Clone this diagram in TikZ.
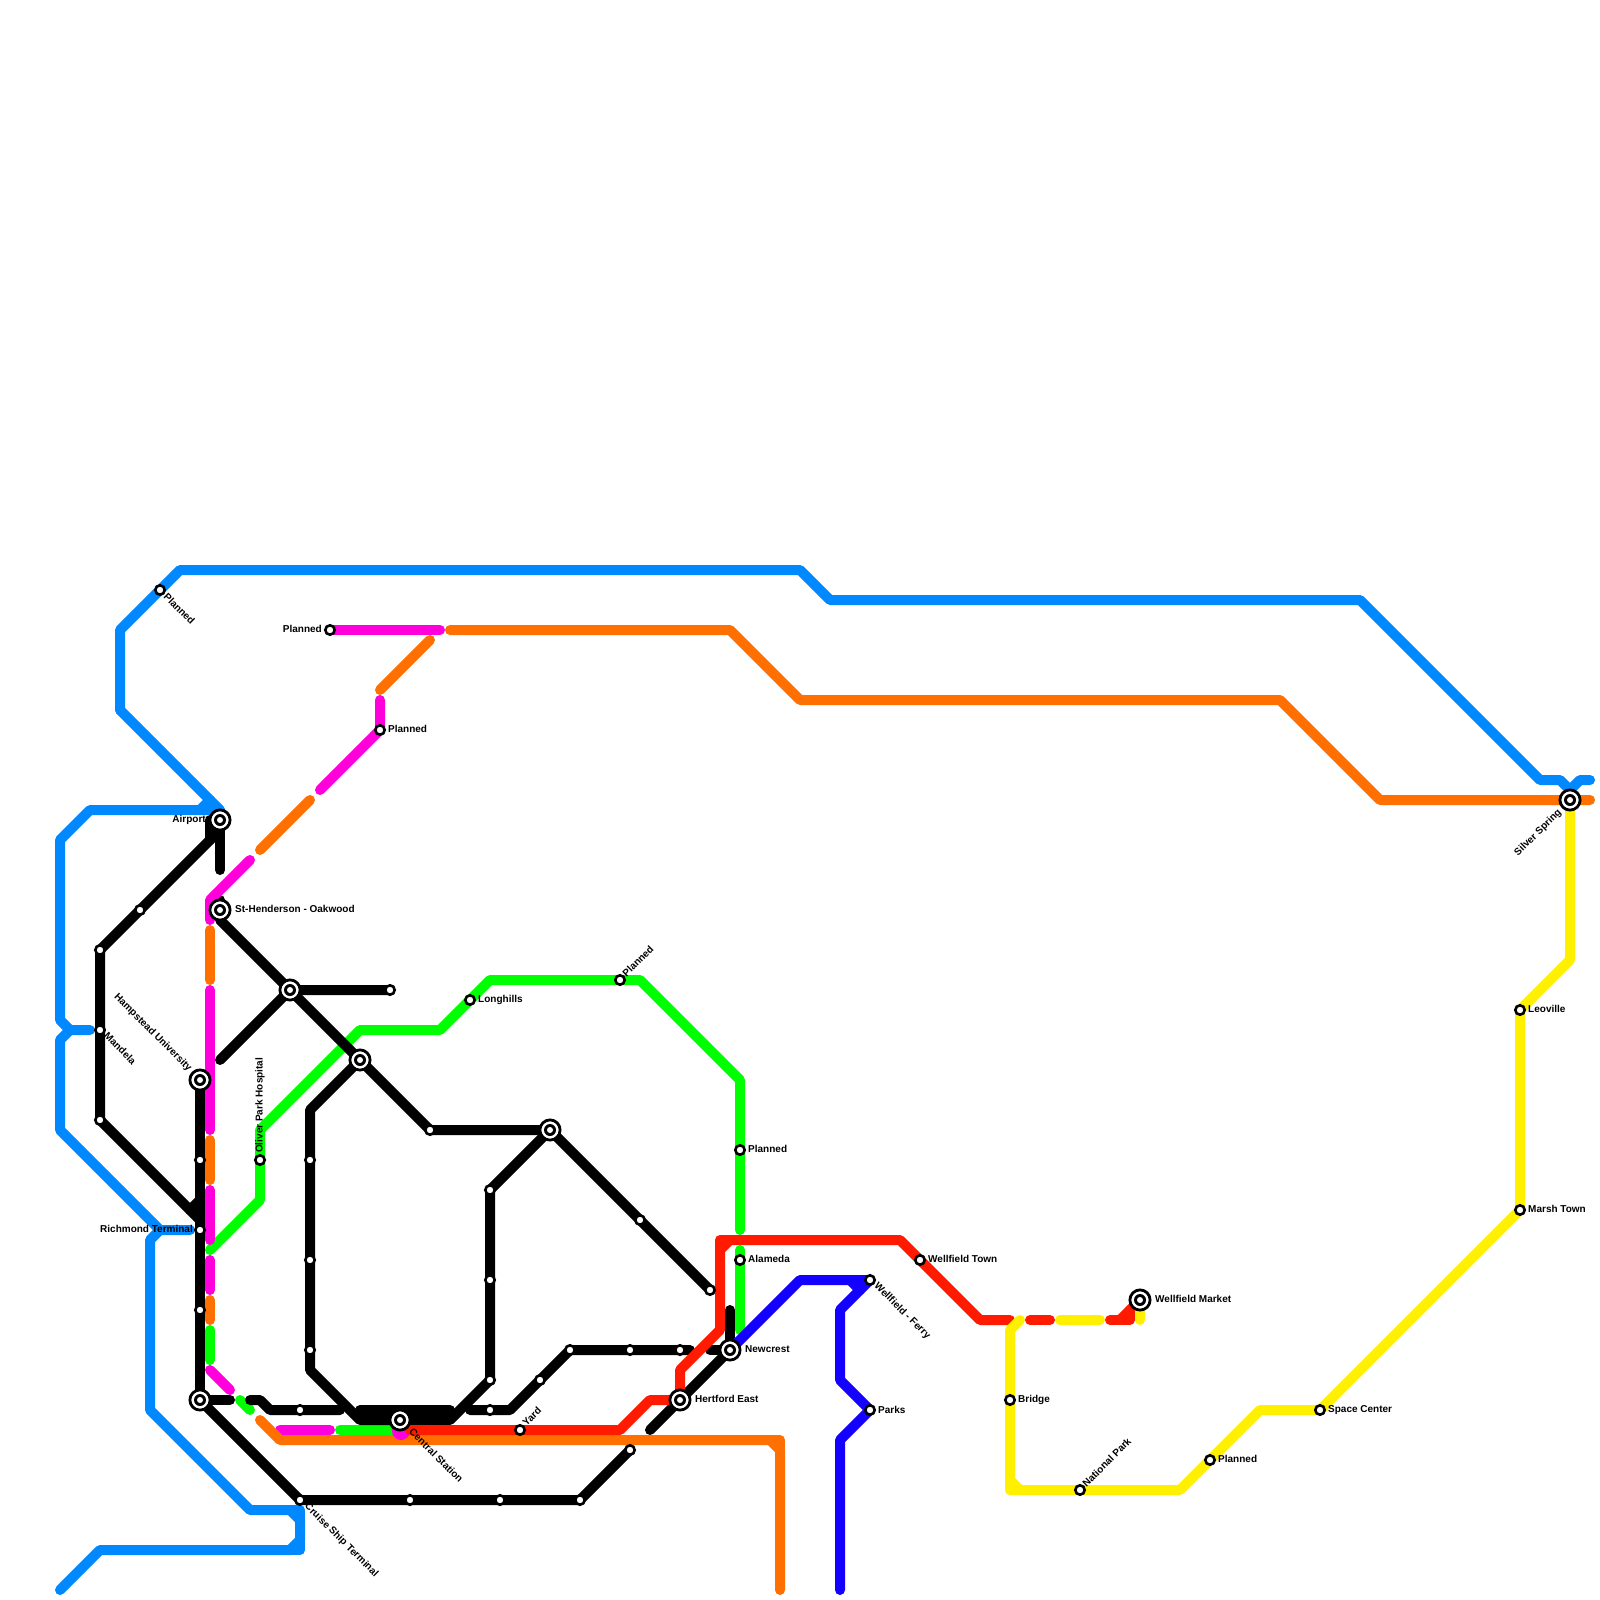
\documentclass[tikz,border=0pt]{standalone}
\usepackage{fontspec}
\setmainfont{Liberation Sans}
\definecolor{lblue}{HTML}{0088FF}
\definecolor{lorange}{HTML}{FF7000}
\definecolor{lmag}{HTML}{FF00DD}
\definecolor{lgreen}{HTML}{00FF00}
\definecolor{lred}{HTML}{FF1A00}
\definecolor{lyellow}{HTML}{FFF000}
\definecolor{ldblue}{HTML}{1400FF}
\tikzset{
  metro/.style={line width=10pt,line cap=round,line join=round},
  blueline/.style={metro,draw=lblue},
  orangeline/.style={metro,draw=lorange},
  magline/.style={metro,draw=lmag},
  greenline/.style={metro,draw=lgreen},
  redline/.style={metro,draw=lred},
  yellowline/.style={metro,draw=lyellow},
  dblueline/.style={metro,draw=ldblue},
  blackline/.style={metro,draw=black},
  stop/.style={circle,draw=black,fill=white,line width=2.6pt,minimum size=9.4pt,inner sep=0pt},
  hub/.style={circle,draw=black,fill=white,line width=2.8pt,minimum size=20.2pt,inner sep=0pt,
    path picture={\fill[black] (path picture bounding box.center) circle (6pt);
                  \fill[white] (path picture bounding box.center) circle (3pt);}},
  lab/.style={font=\fontsize{10}{12}\selectfont\bfseries,inner sep=0pt,text=black},
  labR/.style={lab,anchor=west},
  labL/.style={lab,anchor=east},
  labD/.style={lab,anchor=west,rotate=-45},
  labU/.style={lab,anchor=west,rotate=45},
  labV/.style={lab,anchor=west,rotate=90},
}
\begin{document}
\begin{tikzpicture}[x=1pt,y=-1pt]
\useasboundingbox (0,0) rectangle (1600,1600);
% station coordinates
\coordinate (airport) at (220,820);
\coordinate (hend) at (220,910);
\coordinate (h1) at (290,990);
\coordinate (h2) at (360,1060);
\coordinate (hamp) at (200,1080);
\coordinate (h3) at (550,1130);
\coordinate (rich) at (200,1230);
\coordinate (s1160) at (200,1160);
\coordinate (s1310) at (200,1310);
\coordinate (hb) at (200,1400);
\coordinate (central) at (400,1420);
\coordinate (hertford) at (680,1400);
\coordinate (newcrest) at (730,1350);
\coordinate (silver) at (1570,800);
\coordinate (wmarket) at (1140,1300);
\coordinate (cruise) at (300,1500);
\coordinate (wferry) at (870,1280);
\coordinate (parks) at (870,1410);
\coordinate (p1) at (160,590);
\coordinate (p2) at (330,630);
\coordinate (p3) at (380,730);
\coordinate (a1) at (140,910);
\coordinate (a2) at (100,950);
\coordinate (mandela) at (100,1030);
\coordinate (a3) at (100,1120);
\coordinate (oliver) at (260,1160);
\coordinate (e1) at (390,990);
\coordinate (e2) at (430,1130);
\coordinate (c1) at (310,1160);
\coordinate (c2) at (310,1260);
\coordinate (c3) at (310,1350);
\coordinate (d1) at (300,1410);
\coordinate (g1) at (490,1190);
\coordinate (g2) at (490,1280);
\coordinate (g3) at (490,1380);
\coordinate (j1) at (490,1410);
\coordinate (j2) at (540,1380);
\coordinate (j3) at (570,1350);
\coordinate (j4) at (630,1350);
\coordinate (j5) at (680,1350);
\coordinate (f1) at (640,1220);
\coordinate (f2) at (710,1290);
\coordinate (k1) at (410,1500);
\coordinate (k2) at (500,1500);
\coordinate (k3) at (580,1500);
\coordinate (k4) at (630,1450);
\coordinate (yard) at (520,1430);
\coordinate (longhills) at (470,1000);
\coordinate (p4) at (620,980);
\coordinate (p5) at (740,1150);
\coordinate (alameda) at (740,1260);
\coordinate (wtown) at (920,1260);
\coordinate (bridge) at (1010,1400);
\coordinate (national) at (1080,1490);
\coordinate (p6) at (1210,1460);
\coordinate (space) at (1320,1410);
\coordinate (marsh) at (1520,1210);
\coordinate (leoville) at (1520,1010);
% blue
\draw[blueline] (120,710)--(120,630)--(p1)--(180,570)--(800,570)--(830,600)--(1360,600)--(1540,780)--(1560,780)--(1570,790)--(1580,780)--(1590,780);
\draw[blueline] (120,710)--(220,810)--(200,810)--(90,810)--(60,840)--(60,1020)--(70,1030)--(90,1030);
\draw[blueline] (200,810)--(210,800);
\draw[blueline] (70,1030)--(60,1040)--(60,1130)--(160,1230)--(190,1230);
\draw[blueline] (160,1230)--(150,1240)--(150,1410)--(250,1510)--(290,1510)--(300,1520)--(300,1540)--(290,1550)--(100,1550)--(60,1590);
\draw[blueline] (290,1510)--(300,1510)--(300,1550)--(290,1550);
% green
\draw[greenline] (740,1230)--(740,1080)--(640,980)--(p4)--(490,980)--(longhills)--(440,1030)--(360,1030)--(260,1130)--(oliver)--(260,1200)--(210,1250);
\draw[greenline] (740,1250)--(740,1330);
\draw[greenline] (210,1330)--(210,1360);
\draw[greenline] (240,1400)--(250,1410);
\draw[greenline] (340,1430)--(395,1430);
% black
\draw[blackline] (220,830)--(a1)--(a2)--(mandela)--(a3)--(200,1220);
\draw[blackline] (190,1210)--(200,1200);
\draw[blackline] (210,820)--(210,840);
\draw[blackline] (airport)--(220,870);
\draw[blackline] (hamp)--(s1160)--(rich)--(s1310)--(hb);
\draw[blackline] (hb)--(230,1400);
\draw[blackline] (250,1400)--(260,1400)--(270,1410)--(d1)--(340,1410);
\draw[blackline] (220,900)--(220,920)--(h1)--(h2)--(e2)--(h3)--(f1)--(f2);
\draw[blackline] (220,1060)--(h1)--(e1);
\draw[blackline] (h2)--(310,1110)--(c1)--(c2)--(c3)--(310,1370)--(360,1420)--(450,1420)--(g3)--(g2)--(g1)--(h3);
\draw[blackline] (360,1410)--(450,1410);
\draw[blackline,line width=12pt] (365,1415)--(445,1415);
\draw[blackline] (470,1410)--(j1)--(510,1410)--(j3)--(j4)--(j5)--(690,1350);
\draw[blackline] (710,1350)--(newcrest);
\draw[blackline] (730,1310)--(newcrest);
\draw[blackline] (650,1430)--(newcrest);
\draw[blackline] (hb)--(cruise)--(k1)--(k2)--(k3)--(k4);
% magenta
\draw[magline] (p2)--(440,630);
\draw[magline] (380,700)--(p3)--(320,790);
\draw[magline] (250,860)--(210,900)--(210,920);
\draw[magline] (210,990)--(210,1130);
\draw[magline] (210,1190)--(210,1240);
\draw[magline] (210,1260)--(210,1290);
\draw[magline] (210,1370)--(230,1390);
\draw[magline] (280,1430)--(330,1430);
% orange
\draw[orangeline] (450,630)--(730,630)--(800,700)--(1280,700)--(1380,800)--(1590,800);
\draw[orangeline] (430,640)--(380,690);
\draw[orangeline] (310,800)--(260,850);
\draw[orangeline] (210,930)--(210,980);
\draw[orangeline] (210,1140)--(210,1180);
\draw[orangeline] (210,1300)--(210,1320);
\draw[orangeline] (260,1420)--(280,1440)--(770,1440)--(780,1450)--(780,1590);
\draw[orangeline] (770,1440)--(780,1440)--(780,1450);
\fill[lmag] (401,1431) circle (9pt);
% red
\draw[redline] (410,1430)--(yard)--(620,1430)--(650,1400)--(hertford);
\draw[redline] (hertford)--(680,1370)--(720,1330)--(720,1250)--(730,1240)--(900,1240)--(wtown)--(980,1320)--(1010,1320);
\draw[redline] (720,1250)--(720,1240)--(730,1240);
\draw[redline] (1030,1320)--(1050,1320);
\draw[redline] (1110,1320)--(1130,1320)--(1130,1310);
\draw[redline] (1120,1320)--(wmarket);
% yellow
\draw[yellowline] (wmarket)--(1140,1320);
\draw[yellowline] (1060,1320)--(1100,1320);
\draw[yellowline] (1020,1320)--(1010,1330)--(bridge)--(1010,1480)--(1020,1490)--(national)--(1180,1490)--(1260,1410)--(space)--(marsh)--(leoville)--(1570,960)--(silver);
\draw[yellowline] (1010,1480)--(1010,1490)--(1020,1490);
% dark blue
\draw[dblueline] (newcrest)--(800,1280)--(wferry)--(840,1310)--(840,1380)--(parks)--(840,1440)--(840,1590);
\draw[dblueline] (850,1280)--(860,1290);
% stations
\foreach \n in {p1,p2,p3,p5,p6,a1,a2,mandela,a3,oliver,e1,e2,c1,c2,c3,d1,s1160,rich,s1310,g1,g2,g3,j1,j2,j3,j4,j5,f1,f2,cruise,k1,k2,k3,k4,yard,longhills,p4,alameda,wtown,bridge,national,space,marsh,leoville,wferry,parks}
  \node[stop] (st-\n) at (\n) {};
\foreach \n in {airport,hend,h1,h2,hamp,h3,hb,central,hertford,newcrest,silver,wmarket}
  \node[hub] (st-\n) at (\n) {};
% labels
\node[labD] (t1) at (165.5,595) {Planned};
\node[labL] (t2) at (206,820) {Airport};
\node[labR] (t3) at (235,909) {St-Henderson - Oakwood};
\node[lab,anchor=east,rotate=-45] (t4) at (190,1070) {Hampstead University};
\node[labD] (t5) at (106,1034) {Mandela};
\node[labV] (t6) at (260,1153) {Oliver Park Hospital};
\node[labL] (t7) at (193,1229) {Richmond Terminal};
\node[labD] (t8) at (306,1505) {Cruise Ship Terminal};
\node[labD] (t9) at (411,1430) {Central Station};
\node[labU] (t10) at (524,1424) {Yard};
\node[labU] (t11) at (624,975) {Planned};
\node[labR] (t12) at (478,1000) {Longhills};
\node[labR] (t13) at (388,729) {Planned};
\node[labL] (t14) at (322,629) {Planned};
\node[labR] (t15) at (748,1149) {Planned};
\node[labR] (t16) at (748,1259) {Alameda};
\node[labR] (t17) at (745,1349) {Newcrest};
\node[labR] (t18) at (695,1399) {Hertford East};
\node[labD] (t19) at (875.5,1284.5) {Wellfield - Ferry};
\node[labR] (t20) at (878,1410) {Parks};
\node[labR] (t21) at (928,1259) {Wellfield Town};
\node[labR] (t22) at (1018,1400) {Bridge};
\node[labU] (t23) at (1084,1485) {National Park};
\node[labR] (t24) at (1218,1459) {Planned};
\node[labR] (t25) at (1328,1410) {Space Center};
\node[labR] (t26) at (1155,1299) {Wellfield Market};
\node[labR] (t27) at (1528,1209) {Marsh Town};
\node[labR] (t28) at (1528,1009) {Leoville};
\node[lab,anchor=east,rotate=45] (t29) at (1560,811) {Silver Spring};
\end{tikzpicture}
\end{document}
